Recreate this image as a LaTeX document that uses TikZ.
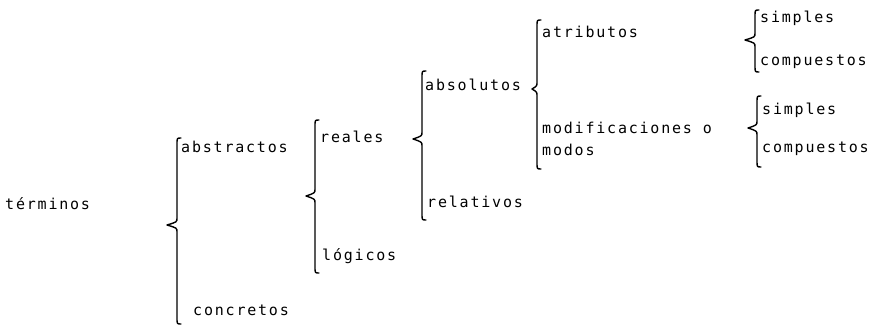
\documentclass[tikz,border=0pt]{standalone}
\usepackage{fontspec}
\newfontfamily\tw[LetterSpace=12]{DejaVu Sans Mono}
\newcommand\mybrace[5]{% x, top, tipx, mid, bottom
  \draw[bracestyle] (#1+4,#2) .. controls (#1,#2) .. (#1,#2+6) -- (#1,#4-7)
    .. controls (#1,#4-3) .. (#3,#4) .. controls (#1,#4+3) .. (#1,#4+7)
    -- (#1,#5-6) .. controls (#1,#5) .. (#1+4,#5);}
\begin{document}
\begin{tikzpicture}[x=1pt,y=-1pt,
  lbl/.style={anchor=mid west,inner sep=0pt,font=\tw\fontsize{15}{18}\selectfont},
  bracestyle/.style={line width=1.4pt,line cap=round,line join=round}]
\fill[white] (0,0) rectangle (878,326);
\useasboundingbox (0,0) rectangle (878,326);
% labels
\node[lbl] (terminos) at (5,207) {términos};
\node[lbl] (abstractos) at (181,150) {abstractos};
\node[lbl] (concretos) at (193,313) {concretos};
\node[lbl] (reales) at (320,140) {reales};
\node[lbl] (logicos) at (322,258) {lógicos};
\node[lbl] (absolutos) at (425,88) {absolutos};
\node[lbl] (relativos) at (427,205) {relativos};
\node[lbl] (atributos) at (542,35) {atributos};
\node[lbl] (modif) at (542,131) {modificaciones o};
\node[lbl] (modos) at (542,153) {modos};
\node[lbl] (simplesA) at (760,20) {simples};
\node[lbl] (compuestosA) at (760,63) {compuestos};
\node[lbl] (simplesB) at (762,112) {simples};
\node[lbl] (compuestosB) at (762,150) {compuestos};
% braces
\mybrace{177}{138}{167}{225}{324}
\mybrace{315}{120}{306}{196}{273}
\mybrace{422}{71}{413}{139}{220}
\mybrace{537}{20}{532}{89}{169}
\mybrace{755}{10}{745}{40}{72}
\mybrace{757}{96}{748}{128}{167}
\end{tikzpicture}
\end{document}
